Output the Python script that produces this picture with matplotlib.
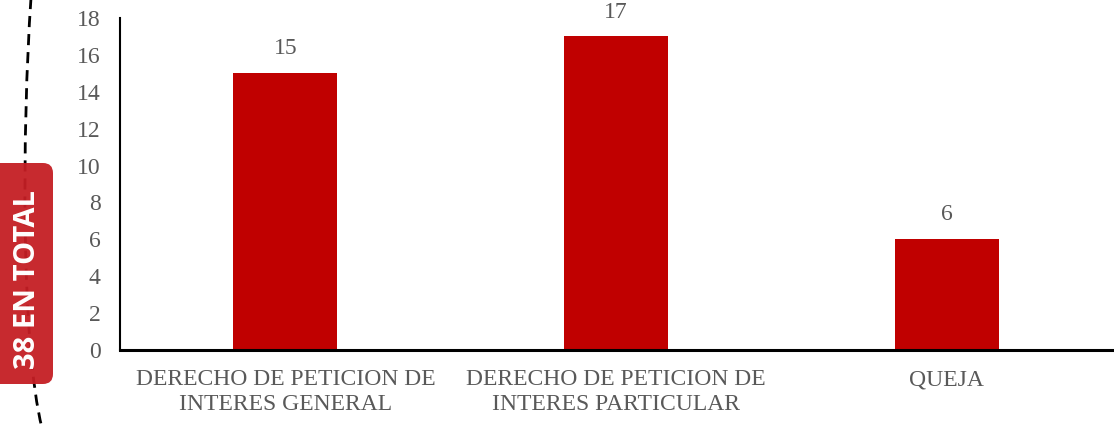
import matplotlib
matplotlib.use("Agg")
import matplotlib.pyplot as plt
from matplotlib.patches import FancyBboxPatch, PathPatch
from matplotlib.path import Path

categories = ["DERECHO DE PETICION DE\nINTERES GENERAL",
              "DERECHO DE PETICION DE\nINTERES PARTICULAR",
              "QUEJA"]
values = [15, 17, 6]
yticks = [0, 2, 4, 6, 8, 10, 12, 14, 16, 18]
badge_text = "38 EN TOTAL"

W, H = 1114, 426
fig = plt.figure(figsize=(W / 100, H / 100), dpi=100)
serif = ["Liberation Serif", "DejaVu Serif"]
gray = "#595959"
red = "#C00000"

ax = fig.add_axes([120 / W, 1 - 350 / H, (1112 - 120) / W, (350 - 18) / H])
x = list(range(len(categories)))
bars = ax.bar(x, values, width=0.314, color=red)
ax.set_xlim(-0.5, len(categories) - 0.5)
ax.set_ylim(0, 18)
ax.set_yticks(yticks)
ax.set_xticks(x)
ax.set_xticklabels(categories, fontfamily=serif, fontsize=17, color=gray, linespacing=1.2)
ax.set_yticklabels([str(t) for t in yticks], fontfamily=serif, fontsize=17, color=gray)
ax.tick_params(axis="y", length=0, pad=14)
ax.tick_params(axis="x", length=0, pad=14)
for s in ["top", "right"]:
    ax.spines[s].set_visible(False)
ax.spines["left"].set_color("black")
ax.spines["left"].set_linewidth(1.5)
ax.spines["bottom"].set_color("black")
ax.spines["bottom"].set_linewidth(2.2)
for b, v in zip(bars, values):
    ax.annotate(str(v), (b.get_x() + b.get_width() / 2, v), xytext=(0, 10),
                textcoords="offset points", ha="center", va="bottom",
                fontfamily=serif, fontsize=17, color=gray)

# decorative dashed curve (pixel coords -> figure fraction)
def fp(px, py):
    return (px / W, 1 - py / H)

verts = [fp(31, -2), fp(22, 130), fp(21, 345), fp(42, 428)]
path = Path(verts, [Path.MOVETO, Path.CURVE4, Path.CURVE4, Path.CURVE4])
curve = PathPatch(path, transform=fig.transFigure, fill=False, edgecolor="black",
                  linewidth=2, linestyle=(0, (4, 2.5)))
fig.add_artist(curve)

# badge
bx0, by0, bx1, by1 = -12, 163, 53, 384
badge = FancyBboxPatch((bx0 / W, 1 - by1 / H), (bx1 - bx0) / W, (by1 - by0) / H,
                       boxstyle="round,pad=0,rounding_size=0.009",
                       transform=fig.transFigure, facecolor="#C41E24",
                       edgecolor="none", alpha=0.95, mutation_aspect=W / H)
fig.add_artist(badge)
fig.text(28 / W, 1 - 280 / H, badge_text, rotation=90, ha="center", va="center",
         color="white", fontsize=21, fontweight="bold",
         fontfamily=["Open Sans", "DejaVu Sans"])

fig.savefig("out.png", dpi=100)
